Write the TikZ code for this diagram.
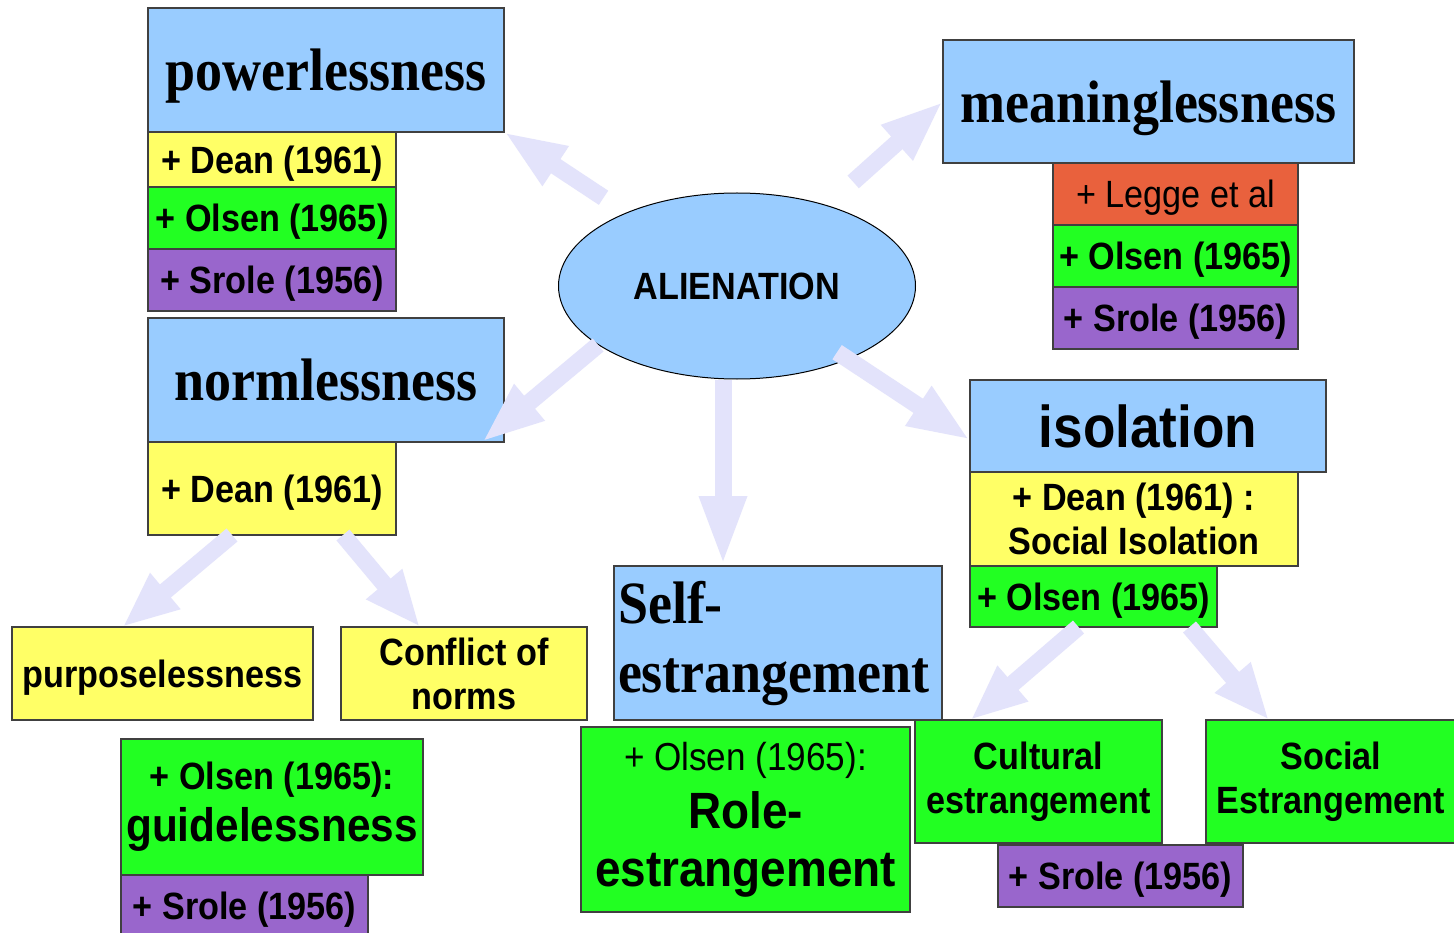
\documentclass[tikz,border=0pt]{standalone}
\usepackage{fontspec}
\newfontfamily\headfont[FakeStretch=0.9]{Liberation Serif}
\newfontfamily\labelfont[FakeStretch=0.9]{Liberation Sans}
\usetikzlibrary{arrows.meta,shapes.geometric,calc}
\definecolor{headblue}{HTML}{99CCFF}
\definecolor{refyellow}{HTML}{FFFF66}
\definecolor{refgreen}{HTML}{22FF22}
\definecolor{refpurple}{HTML}{9966CC}
\definecolor{reforange}{HTML}{E9613D}
\definecolor{arrowlav}{HTML}{E3E3FB}

\begin{document}
\begin{tikzpicture}[x=1pt,y=-1pt,
    box/.style={draw=black!75,line width=1.2pt,inner sep=0pt,outer sep=0pt,anchor=north west,align=center},
    head box/.style={box,fill=headblue,font=\headfont\bfseries\fontsize{60}{69}\selectfont},
    head line/.style={head box,text depth=0pt},
    multi box/.style={box,font=\labelfont\bfseries\fontsize{38}{44}\selectfont},
    ref box/.style={multi box,text depth=0pt},
    big arrow/.style={draw=arrowlav,line width=17pt,-{Triangle[length=#1,width=43pt]}},
    big arrow/.default=62pt]

\path[use as bounding box,fill=white] (0,0) rectangle (1454,933);

\node[ellipse,draw=black,line width=1pt,fill=headblue,minimum width=357pt,minimum height=186pt,inner sep=0pt,
    font=\labelfont\bfseries\fontsize{38}{44}\selectfont] (alien) at (737,286) {ALIENATION};

\node[head line,minimum width=356pt,minimum height=124pt] (power) at (148,8) {powerlessness};
\node[ref box,fill=refyellow,minimum width=248pt,minimum height=55pt] (pdean) at (power.south west) {+ Dean (1961)};
\node[ref box,fill=refgreen,minimum width=248pt,minimum height=62pt] (polsen) at (pdean.south west) {+ Olsen (1965)};
\node[ref box,fill=refpurple,minimum width=248pt,minimum height=62pt] (psrole) at (polsen.south west) {+ Srole (1956)};

\node[head line,minimum width=356pt,minimum height=124pt] (norm) at (148,318) {normlessness};
\node[ref box,fill=refyellow,minimum width=248pt,minimum height=93pt] (ndean) at (norm.south west) {+ Dean (1961)};
\node[ref box,fill=refyellow,minimum width=301pt,minimum height=93pt] (purp) at (12,627) {purposelessness};
\node[multi box,fill=refyellow,minimum width=246pt,minimum height=93pt] (conf) at (341,627) {Conflict of\\norms};
\node[multi box,fill=refgreen,minimum width=302pt,minimum height=136pt,
    font=\labelfont\bfseries\fontsize{47}{52}\selectfont] (guide) at (121,739) {{\fontsize{38}{52}\selectfont + Olsen (1965):}\\guidelessness};
\node[ref box,fill=refpurple,minimum width=247pt,minimum height=62pt] (gsrole) at (guide.south west) {+ Srole (1956)};

\node[head line,minimum width=411pt,minimum height=123pt] (mean) at (943,40) {meaninglessness};
\node[ref box,fill=reforange,font=\labelfont\fontsize{38}{44}\selectfont,minimum width=245pt,minimum height=62pt] (mlegge) at (1053,163) {+ Legge et al};
\node[ref box,fill=refgreen,minimum width=245pt,minimum height=62pt] (molsen) at (mlegge.south west) {+ Olsen (1965)};
\node[ref box,fill=refpurple,minimum width=245pt,minimum height=62pt] (msrole) at (molsen.south west) {+ Srole (1956)};

\node[head line,font=\labelfont\bfseries\fontsize{59}{66}\selectfont,minimum width=356pt,minimum height=92pt] (iso) at (970,380) {isolation};
\node[multi box,fill=refyellow,minimum width=328pt,minimum height=94pt] (idean) at (iso.south west) {+ Dean (1961) :\\Social Isolation};
\node[ref box,fill=refgreen,minimum width=247pt,minimum height=61pt] (iolsen) at (idean.south west) {+ Olsen (1965)};
\node[multi box,fill=refgreen,minimum width=247pt,minimum height=123pt] (cult) at (915,720) {Cultural\\estrangement};
\node[multi box,fill=refgreen,minimum width=250pt,minimum height=123pt] (soc) at (1206,720) {Social\\Estrangement};
\node[ref box,fill=refpurple,minimum width=245pt,minimum height=62pt] (isrole) at (998,845) {+ Srole (1956)};

\node[head box,align=left,text width=320pt,inner xsep=4pt,minimum width=328pt,minimum height=154pt] (self) at (614,566) {Self-\\estrangement};
\node[multi box,fill=refgreen,minimum width=329pt,minimum height=185pt,
    font=\labelfont\bfseries\fontsize{51}{58}\selectfont] (role) at (581,727) {{\mdseries\fontsize{39}{58}\selectfont + Olsen (1965):}\\Role-\\estrangement};

\draw[big arrow] ($(alien)!160pt!(power.south east)$) -- (power.south east);
\draw[big arrow] ($(alien)!156pt!(mean.west)$) -- (mean.west);
\draw[big arrow] (alien.203) -- ([xshift=-22pt]norm.south east);
\draw[big arrow] ($(alien)!120pt!([yshift=-14pt]iso.west)$) -- ([yshift=-14pt]iso.west);
\draw[big arrow=70pt] ([xshift=-14pt]alien.south) -- ([xshift=-55pt]self.north);
\draw[big arrow=56pt] ([xshift=-40pt]ndean.south) -- ([xshift=-40pt]purp.north);
\draw[big arrow=56pt] ([xshift=71pt]ndean.south) -- ([xshift=-44pt]conf.north);
\draw[big arrow=56pt] ([xshift=-15pt]iolsen.south) -- ([xshift=-68pt]cult.north);
\draw[big arrow=56pt] ([xshift=96pt]iolsen.south) -- ([xshift=-62pt]soc.north);
\end{tikzpicture}
\end{document}
